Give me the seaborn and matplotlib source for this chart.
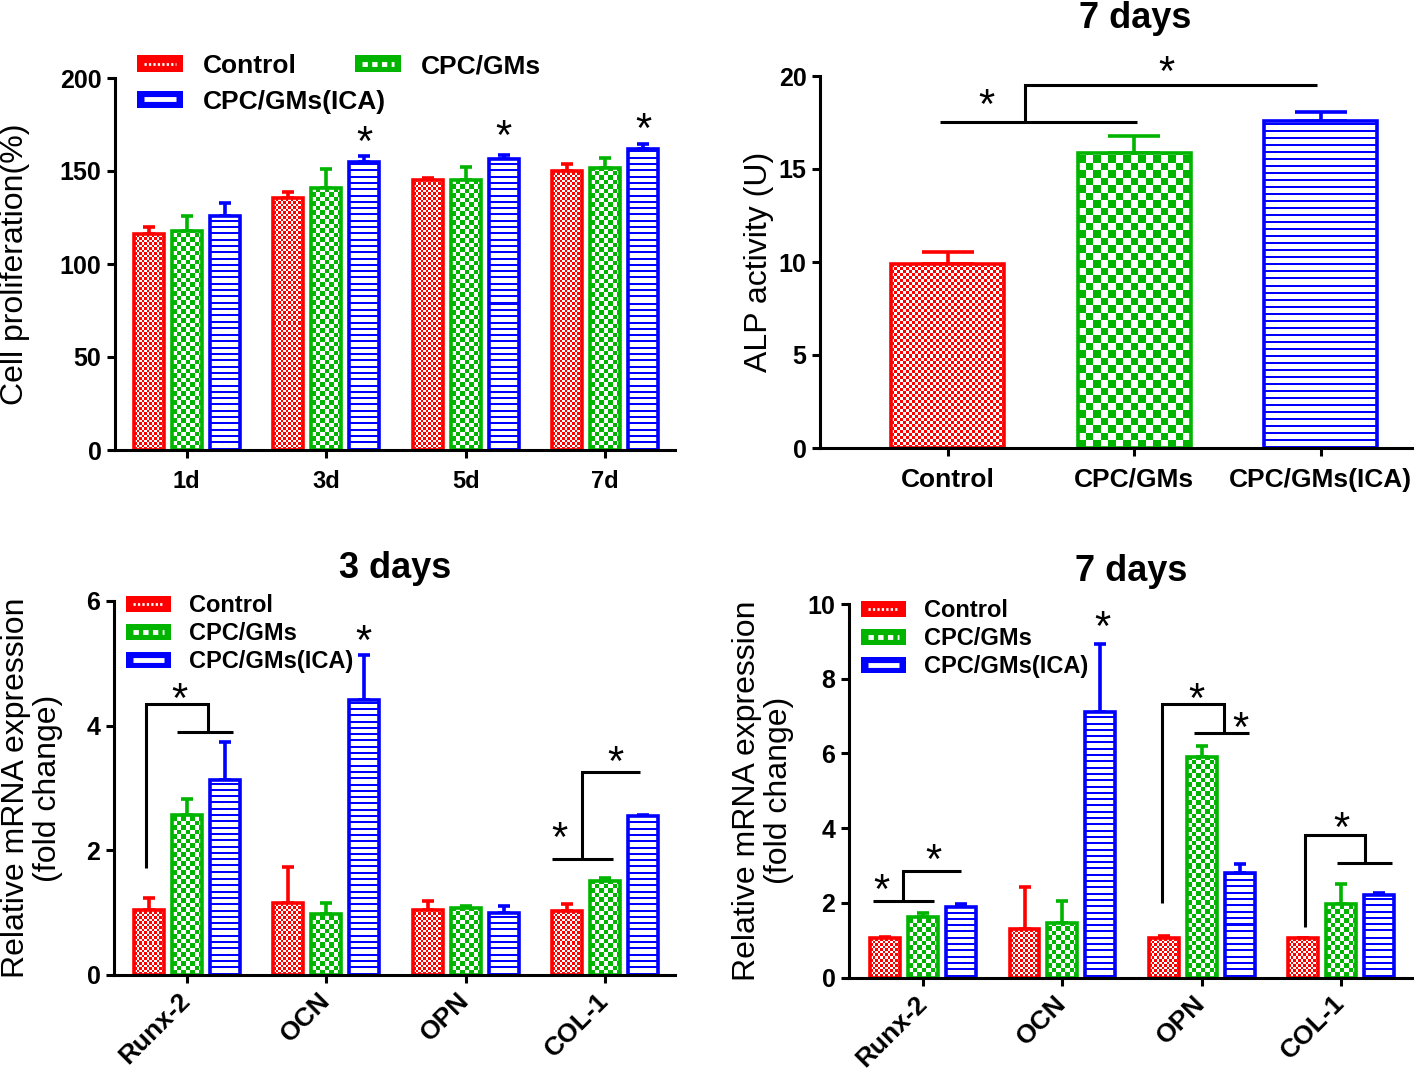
"""Four-panel bar figure: proliferation, ALP activity and mRNA expression."""
import matplotlib

matplotlib.use("Agg")
import matplotlib.pyplot as plt
import numpy as np
import pandas as pd
import seaborn as sns
from matplotlib.colors import to_rgb
from matplotlib.legend_handler import HandlerBase
from matplotlib.lines import Line2D
from matplotlib.patches import Patch, Rectangle

# ---- data -------------------------------------------------------------
groups = ["Control", "CPC/GMs", "CPC/GMs(ICA)"]
colors = ["#ff0000", "#00b400", "#0000ff"]
kinds = ["dots", "checker", "stripes"]

days = ["1d", "3d", "5d", "7d"]
prolif_mean = [[116, 135.5, 145, 150], [118, 141, 145, 151.5], [126, 155, 156.5, 162]]
prolif_sd = [[4, 3, 1, 4], [8, 10, 7, 5.5], [6.6, 3, 2, 2.5]]

alp_mean = [9.9, 15.85, 17.6]
alp_sd = [0.65, 0.9, 0.48]

genes = ["Runx-2", "OCN", "OPN", "COL-1"]
mrna3_mean = [[1.05, 1.16, 1.04, 1.03], [2.57, 0.98, 1.08, 1.51], [3.13, 4.41, 0.99, 2.55]]
mrna3_sd = [[0.18, 0.58, 0.14, 0.11], [0.25, 0.18, 0.02, 0.04], [0.61, 0.73, 0.11, 0.02]]
mrna7_mean = [[1.05, 1.31, 1.05, 1.05], [1.63, 1.45, 5.9, 1.98], [1.89, 7.11, 2.79, 2.2]]
mrna7_sd = [[0.04, 1.12, 0.07, 0.02], [0.09, 0.6, 0.29, 0.52], [0.08, 1.82, 0.26, 0.05]]

# ---- style ------------------------------------------------------------
sns.set_style("ticks", {"axes.edgecolor": "black", "xtick.color": "black",
                        "ytick.color": "black", "text.color": "black",
                        "axes.labelcolor": "black"})
plt.rcParams["font.family"] = ["Liberation Sans", "DejaVu Sans"]

W, H = 1416, 1076
fig = plt.figure(figsize=(W / 100, H / 100), dpi=100)


def panel(left, top, right, bottom):
    return fig.add_axes([left / W, 1 - bottom / H, (right - left) / W, (bottom - top) / H])


def style(ax, xlim, ylim, yticks):
    ax.set_xlim(*xlim)
    ax.set_ylim(*ylim)
    ax.set_yticks(yticks)
    sns.despine(ax=ax)
    for s in ["left", "bottom"]:
        ax.spines[s].set_linewidth(2.2)
    ax.tick_params(length=5.8, width=2.2, labelsize=18, pad=4)
    ax.set_xlabel("")
    for lab in ax.get_yticklabels():
        lab.set_fontweight("bold")


def texture(ax, bar, kind, color, cell):
    bb = bar.get_window_extent()
    w, h = max(int(round(bb.width)), 1), max(int(round(bb.height)), 1)
    yy, xx = np.mgrid[0:h, 0:w]
    if kind == "stripes":
        on = (yy % cell) < 2
    else:
        on = ((xx // cell + yy // cell) % 2) == 0
    rgb = np.ones((h, w, 3))
    rgb[on] = to_rgb(color)
    x0 = bar.get_x()
    im = ax.imshow(rgb, extent=(x0, x0 + bar.get_width(), 0, bar.get_height()),
                   origin="lower", aspect="auto", interpolation="nearest", zorder=1.5)
    im.set_clip_path(bar)


def finish_bars(ax, means, sds, slot, cells, cap, single=False):
    xlim, ylim = ax.get_xlim(), ax.get_ylim()
    for bar in list(ax.patches):
        xc = bar.get_x() + bar.get_width() / 2
        ci = int(round(xc))
        gi = ci if single else int(round((xc - ci) / slot)) + 1
        color = colors[gi]
        bar.set_facecolor("none")
        bar.set_edgecolor(color)
        bar.set_linewidth(2.6)
        bar.set_zorder(2)
        texture(ax, bar, kinds[gi], color, cells[gi])
        m = means[gi] if single else means[gi][ci]
        s = sds[gi] if single else sds[gi][ci]
        ax.errorbar(xc, m, yerr=[[0], [s]], fmt="none", ecolor=color, elinewidth=2.6,
                    capsize=cap, capthick=2.6, zorder=1.4)
    ax.set_xlim(xlim)
    ax.set_ylim(ylim)


def star(ax, x, y, fs=30):
    ax.annotate("*", xy=(x, y), xytext=(0, -0.59 * fs), textcoords="offset points",
                ha="center", va="baseline", fontsize=fs, annotation_clip=False, zorder=4)


def bracket(ax, xs, ys):
    ax.plot(xs, ys, color="black", lw=2.2, clip_on=False, solid_capstyle="butt",
            solid_joinstyle="miter", zorder=3)


class SwatchHandler(HandlerBase):
    def create_artists(self, legend, orig_handle, xdescent, ydescent, width, height,
                       fontsize, trans):
        color = orig_handle.get_facecolor()
        kind = orig_handle.get_gid()
        x0, y0 = -xdescent, -ydescent
        box = Rectangle((x0, y0), width, height, facecolor=color, edgecolor=color,
                        lw=0, transform=trans)
        look = {"dots": dict(lw=2.0, ls=(0, (0.8, 0.8))),
                "checker": dict(lw=3.5, ls=(0, (1.1, 0.9))),
                "stripes": dict(lw=3.5, ls="-")}[kind]
        line = Line2D([x0 + 0.15 * width, x0 + 0.85 * width], [y0 + height / 2] * 2,
                      color="white", solid_capstyle="butt", dash_capstyle="butt",
                      transform=trans, **look)
        return [box, line]


def swatch_legend(ax, idx, x, y, fs, hl, hh, spacing):
    handles = [Patch(facecolor=colors[i], gid=kinds[i], label=groups[i]) for i in idx]
    leg = ax.legend(handles=handles, handler_map={Patch: SwatchHandler()},
                    loc="upper left", bbox_to_anchor=(x / W, 1 - y / H),
                    bbox_transform=fig.transFigure, frameon=False, borderpad=0,
                    borderaxespad=0, handlelength=hl, handleheight=hh,
                    handletextpad=0.75, labelspacing=spacing,
                    prop={"weight": "bold", "size": fs})
    return leg


def long_frame(cats, means):
    return pd.DataFrame({"cat": cats * 3,
                         "group": np.repeat(groups, len(cats)),
                         "value": np.concatenate(means)})


# ---- panel A: cell proliferation --------------------------------------
axA = panel(115, 78, 675, 450)
sns.barplot(data=long_frame(days, prolif_mean), x="cat", y="value", hue="group",
            order=days, hue_order=groups, palette=colors, width=0.816, gap=0.21,
            errorbar=None, legend=False, ax=axA)
style(axA, (-0.513, 3.50), (0, 200), [0, 50, 100, 150, 200])
axA.set_xticks(range(4), days, fontsize=17, fontweight="bold")
axA.tick_params(axis="x", pad=8.5)
finish_bars(axA, prolif_mean, prolif_sd, 0.272, [2.5, 4.5, 6.3], 4.3)
axA.set_ylabel("Cell proliferation(%)", fontsize=23, va="center", rotation_mode="anchor")
axA.yaxis.set_label_coords((15 - 115) / 560, 0.5)
for x, y in [(1.272, 172), (2.272, 175), (3.272, 179)]:
    star(axA, x, y)
legA = swatch_legend(axA, [0, 2], 137, 54, 19, 1.75, 0.6, 0.44)
axA.add_artist(legA)
swatch_legend(axA, [1], 355, 54, 19, 1.75, 0.6, 0.44)

# ---- panel B: ALP activity -------------------------------------------
axB = panel(820, 76, 1412, 448)
sns.barplot(x=groups, y=alp_mean, hue=groups, palette=colors, width=0.606,
            errorbar=None, legend=False, ax=axB)
style(axB, (-0.686, 2.49), (0, 20), [0, 5, 10, 15, 20])
axB.set_xticks(range(3), groups, fontsize=19, fontweight="bold")
axB.tick_params(axis="x", pad=8.5)
finish_bars(axB, alp_mean, alp_sd, 1, [3.0, 7.5, 7.0], 19, single=True)
axB.set_ylabel("ALP activity (U)", fontsize=23, va="center", rotation_mode="anchor")
axB.yaxis.set_label_coords((759 - 820) / 592, 0.5)
axB.text(0.532, (448 - 19) / 372, "7 days", transform=axB.transAxes, ha="center",
         va="center", fontsize=26, fontweight="bold")
bracket(axB, [-0.043, 1.013], [17.54, 17.54])
bracket(axB, [0.413, 0.413, 1.979], [17.54, 19.52, 19.52])
star(axB, 0.209, 19.09)
star(axB, 1.174, 20.86)

# ---- panels C / D: mRNA expression -----------------------------------
def mrna_panel(box, means, sds, ylim, yticks, xlim, label_x, title_xy, title, leg_xy):
    ax = panel(*box)
    sns.barplot(data=long_frame(genes, means), x="cat", y="value", hue="group",
                order=genes, hue_order=groups, palette=colors, width=0.816, gap=0.21,
                errorbar=None, legend=False, ax=ax)
    style(ax, xlim, ylim, yticks)
    ax.set_xticks(range(4), genes)
    for lab in ax.get_xticklabels():
        lab.set(rotation=45, ha="right", va="center", rotation_mode="anchor",
                fontsize=19, fontweight="bold")
    ax.tick_params(axis="x", pad=10)
    finish_bars(ax, means, sds, 0.272, [2.5, 4.5, 6.3], 4.3)
    ax.set_ylabel("Relative mRNA expression\n(fold change)", fontsize=23, va="center",
                  rotation_mode="anchor", linespacing=1.08)
    ax.yaxis.set_label_coords(label_x, 0.5)
    ax.text(*title_xy, title, transform=ax.transAxes, ha="center", va="center",
            fontsize=26, fontweight="bold")
    swatch_legend(ax, [0, 1, 2], *leg_xy, 17, 1.9, 0.66, 0.22)
    return ax


axC = mrna_panel((114, 601, 675, 975), mrna3_mean, mrna3_sd, (0, 6), [0, 2, 4, 6],
                 (-0.521, 3.50), (32 - 114) / 561, (0.502, 1.088), "3 days", (126, 594))
bracket(axC, [-0.289, -0.289, 0.153, 0.153], [1.72, 4.35, 4.35, 3.90])
bracket(axC, [-0.067, 0.33], [3.90, 3.90])
star(axC, -0.05, 4.62)
star(axC, 1.264, 5.54)
bracket(axC, [2.62, 3.055], [1.86, 1.86])
bracket(axC, [2.83, 2.83, 3.25], [1.86, 3.26, 3.26])
star(axC, 2.67, 2.38)
star(axC, 3.07, 3.61)

axD = mrna_panel((849, 604, 1412, 977.5), mrna7_mean, mrna7_sd, (0, 10),
                 [0, 2, 4, 6, 8, 10], (-0.532, 3.51), (763 - 849) / 563,
                 (0.501, 1.086), "7 days", (861, 599))
bracket(axD, [-0.36, 0.076], [2.05, 2.05])
bracket(axD, [-0.142, -0.142, 0.27], [2.05, 2.85, 2.85])
star(axD, -0.30, 2.66)
star(axD, 0.076, 3.46)
star(axD, 1.29, 9.69)
bracket(axD, [1.717, 1.717, 2.157, 2.157], [1.99, 7.31, 7.31, 6.55])
bracket(axD, [1.944, 2.342], [6.55, 6.55])
star(axD, 1.964, 7.78)
star(axD, 2.277, 6.99)
bracket(axD, [2.744, 2.744, 3.175, 3.175], [1.36, 3.81, 3.81, 3.07])
bracket(axD, [2.97, 3.368], [3.07, 3.07])
star(axD, 3.0, 4.30)

fig.savefig("out.png", dpi=100)
plt.close(fig)
